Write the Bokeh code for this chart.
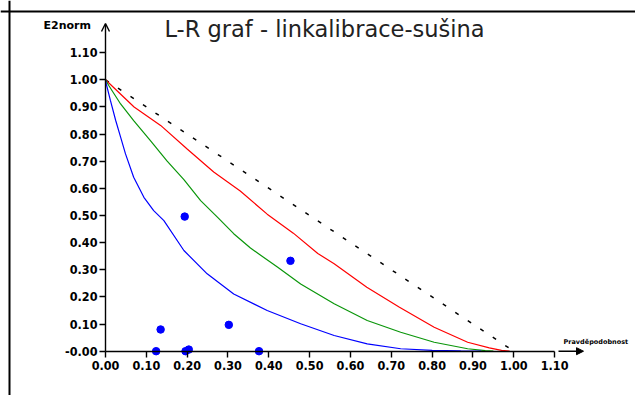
from bokeh.plotting import figure
from bokeh.models import Range1d, LinearAxis, FixedTicker, Span, Arrow, OpenHead, NormalHead, Label
from bokeh.embed import file_html
from bokeh.resources import INLINE

# ---- data ----
tick_values = [0.0, 0.1, 0.2, 0.3, 0.4, 0.5, 0.6, 0.7, 0.8, 0.9, 1.0, 1.1]
x_tick_labels = ["0.00", "0.10", "0.20", "0.30", "0.40", "0.50", "0.60", "0.70", "0.80", "0.90", "1.00", "1.10"]
y_tick_labels = ["-0.00", "0.10", "0.20", "0.30", "0.40", "0.50", "0.60", "0.70", "0.80", "0.90", "1.00", "1.10"]

diag_x = [0.0, 1.0]
diag_y = [1.0, 0.0]

red_x = [0.0, 0.07, 0.135, 0.2, 0.265, 0.33, 0.396, 0.46, 0.52, 0.56, 0.64, 0.72, 0.805, 0.887, 0.94, 0.97, 0.99]
red_y = [1.0, 0.90, 0.832, 0.745, 0.66, 0.59, 0.505, 0.435, 0.36, 0.322, 0.236, 0.162, 0.088, 0.033, 0.012, 0.003, 0.0]

green_x = [0.0, 0.008, 0.037, 0.069, 0.11, 0.151, 0.192, 0.233, 0.274, 0.314, 0.355, 0.421, 0.478, 0.56, 0.641, 0.723, 0.805, 0.887, 0.93, 0.95]
green_y = [1.0, 0.979, 0.911, 0.85, 0.776, 0.70, 0.632, 0.555, 0.494, 0.433, 0.38, 0.31, 0.248, 0.175, 0.113, 0.07, 0.033, 0.009, 0.002, 0.0]

blue_x = [0.0, 0.002, 0.012, 0.025, 0.037, 0.049, 0.069, 0.094, 0.118, 0.143, 0.192, 0.249, 0.314, 0.396, 0.478, 0.56, 0.641, 0.723, 0.8, 0.87, 0.92]
blue_y = [1.0, 0.984, 0.924, 0.85, 0.789, 0.727, 0.641, 0.567, 0.518, 0.481, 0.371, 0.285, 0.211, 0.15, 0.101, 0.058, 0.027, 0.009, 0.003, 0.001, 0.0]

pts_x = [0.124, 0.135, 0.194, 0.196, 0.204, 0.302, 0.376, 0.453]
pts_y = [0.0, 0.08, 0.496, 0.0, 0.006, 0.097, 0.0, 0.333]

# ---- layout: map picture pixels to data ----
W, H = 635, 395
OX, OY = 0, 0             # picture position of the figure's top-left corner
PX0, PX1 = 105.0, 513.3   # picture x of data x=0 and x=1
PY0, PY1 = 350.7, 79.3    # picture y of data y=0 and y=1
sx = PX1 - PX0
sy = PY0 - PY1
def dx(px):
    return (px - PX0) / sx
def dy(py):
    return (PY0 - py) / sy

p = figure(width=W, height=H,
           x_range=Range1d(dx(OX), dx(OX + W)), y_range=Range1d(dy(OY + H), dy(OY)),
           output_backend="svg", toolbar_location=None,
           x_axis_location=None, y_axis_location=None, min_border=0)
p.grid.grid_line_color = None
p.outline_line_color = None
p.background_fill_color = "white"
p.border_fill_color = "white"

TICK_FONT = "'Liberation Sans Narrow', 'DejaVu Sans Condensed', 'Liberation Sans', sans-serif"

def style_axis(ax, labels):
    ax.ticker = FixedTicker(ticks=tick_values)
    ax.major_label_overrides = {t: l for t, l in zip(tick_values, labels)}
    ax.axis_line_color = "black"
    ax.axis_line_width = 1.4
    ax.major_tick_line_color = "black"
    ax.major_tick_line_width = 1.4
    ax.major_tick_in = 0
    ax.major_tick_out = 6
    ax.minor_tick_line_color = None
    ax.major_label_text_font = TICK_FONT
    ax.major_label_text_font_style = "bold"
    ax.major_label_text_font_size = "12.5px"
    ax.major_label_text_color = "black"

xaxis = LinearAxis(fixed_location=0, bounds=(0, 1.1))
style_axis(xaxis, x_tick_labels)
xaxis.major_label_standoff = 4
p.add_layout(xaxis, "below")

yaxis = LinearAxis(fixed_location=0, bounds=(0, 1.1))
style_axis(yaxis, y_tick_labels)
yaxis.major_label_standoff = 2
p.add_layout(yaxis, "left")

# frame border (top and left)
p.add_layout(Span(location=dx(9), dimension="height", line_color="black", line_width=2))
p.add_layout(Span(location=dy(11), dimension="width", line_color="black", line_width=2))

# axis arrows
p.add_layout(Arrow(end=OpenHead(size=8, line_width=1.4, line_color="black"),
                   x_start=0, y_start=1.1, x_end=0, y_end=dy(23),
                   line_color="black", line_width=1.4))
p.add_layout(Arrow(end=NormalHead(size=7, fill_color="black", line_color="black"),
                   x_start=dx(558), y_start=0, x_end=dx(583), y_end=0,
                   line_color="black", line_width=1.4))

# curves
p.line(diag_x, diag_y, line_color="black", line_width=1.5, line_dash="4 11")
p.line(red_x, red_y, line_color="#ff0000", line_width=1.2)
p.line(green_x, green_y, line_color="#0a960a", line_width=1.2)
p.line(blue_x, blue_y, line_color="#0000ff", line_width=1.2)
p.scatter(pts_x, pts_y, size=7.5, color="#0000ff")

# texts
p.add_layout(Label(x=dx(324), y=dy(28), text="L-R graf - linkalibrace-sušina",
                   text_align="center", text_baseline="middle",
                   text_font="DejaVu Sans", text_font_size="22.5px", text_color="#222222"))
p.add_layout(Label(x=dx(43), y=dy(25), text="E2norm",
                   text_align="left", text_baseline="middle",
                   text_font="DejaVu Sans", text_font_style="bold", text_font_size="11px", text_color="black"))
p.add_layout(Label(x=dx(563), y=dy(341), text="Pravděpodobnost",
                   text_align="left", text_baseline="middle",
                   text_font="DejaVu Sans", text_font_style="bold", text_font_size="6.5px", text_color="black"))

open("out.html", "w").write(file_html(p, INLINE))
